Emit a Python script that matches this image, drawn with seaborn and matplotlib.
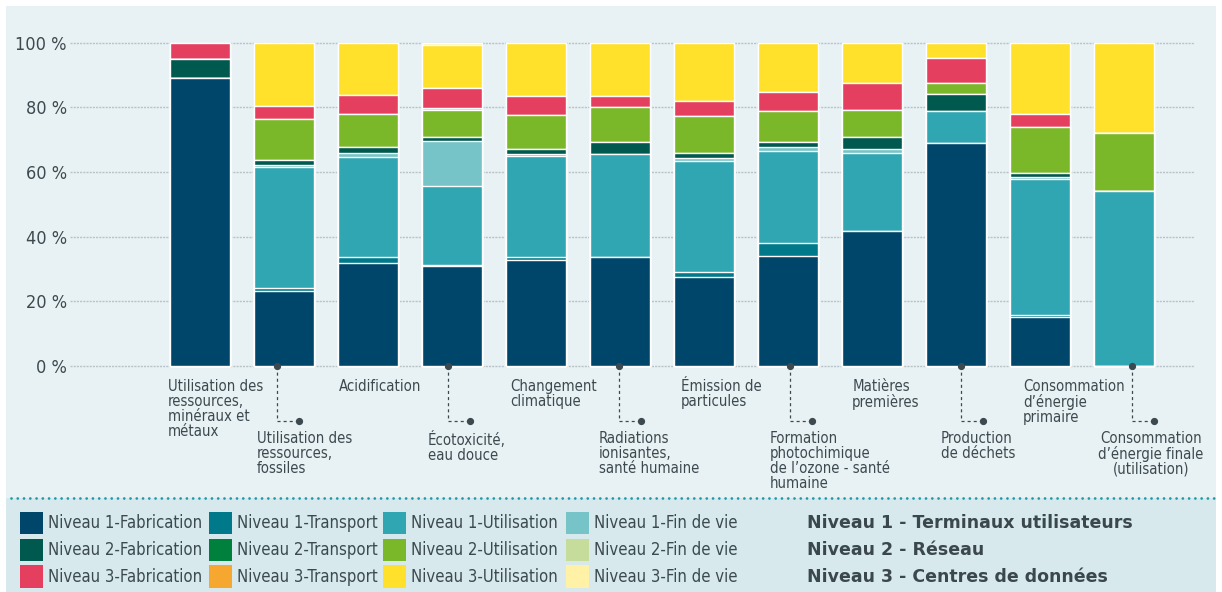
import numpy as np
import pandas as pd
import matplotlib
matplotlib.use('Agg')
import matplotlib.pyplot as plt
from matplotlib.patches import Rectangle
from matplotlib.lines import Line2D
import seaborn as sns

# ---------------------------------------------------------
# DATA (share of each impact, %)
# ---------------------------------------------------------
categories = [
    "Utilisation des\nressources,\nminéraux et\nmétaux",
    "Utilisation des\nressources,\nfossiles",
    "Acidification",
    "Écotoxicité,\neau douce",
    "Changement\nclimatique",
    "Radiations\nionisantes,\nsanté humaine",
    "Émission de\nparticules",
    "Formation\nphotochimique\nde l’ozone - santé\nhumaine",
    "Matières\npremières",
    "Production\nde déchets",
    "Consommation\nd’énergie\nprimaire",
    "Consommation\nd’énergie finale\n(utilisation)",
]

niv1_fabrication = [89.0, 23.2, 31.8, 30.9, 32.8, 33.6, 27.4, 34.0, 41.8, 69.1, 15.1, 0.0]
niv1_transport   = [0.0, 0.8, 1.8, 0.3, 1.0, 0.0, 1.6, 3.9, 0.0, 0.0, 0.7, 0.0]
niv1_utilisation = [0.2, 37.6, 31.0, 24.6, 31.1, 32.1, 34.3, 28.6, 24.2, 9.8, 42.0, 54.0]
niv1_fin_de_vie  = [0.0, 0.5, 1.4, 13.8, 0.8, 0.0, 0.9, 1.1, 1.0, 0.0, 0.8, 0.0]
niv2_fabrication = [5.8, 1.6, 1.6, 1.3, 1.5, 3.7, 1.6, 1.8, 3.9, 5.3, 1.2, 0.0]
niv2_transport   = [0.0] * 12
niv2_utilisation = [0.0, 12.6, 10.5, 8.3, 10.3, 10.7, 11.5, 9.5, 8.2, 3.2, 14.2, 18.0]
niv2_fin_de_vie  = [0.0, 0.0, 0.0, 0.5, 0.0, 0.0, 0.0, 0.0, 0.0, 0.0, 0.0, 0.0]
niv3_fabrication = [5.0, 4.1, 5.7, 6.4, 6.0, 3.4, 4.8, 6.0, 8.5, 8.0, 4.1, 0.0]
niv3_transport   = [0.0] * 12
niv3_utilisation = [0.0, 19.6, 16.2, 13.1, 16.5, 16.5, 17.9, 15.1, 12.4, 4.6, 21.9, 28.0]
niv3_fin_de_vie  = [0.0, 0.0, 0.0, 0.8, 0.0, 0.0, 0.0, 0.0, 0.0, 0.0, 0.0, 0.0]

phases = ["Fabrication", "Transport", "Utilisation", "Fin de vie"]
segment_names = [f"Niveau {n}-{p}" for n in (1, 2, 3) for p in phases]
segment_colors = [
    "#00466a", "#007a8b", "#30a6b3", "#76c4c7",
    "#00594e", "#00803d", "#7ab829", "#c5dc9b",
    "#e43f5e", "#f6a72f", "#ffe02b", "#fff2a6",
]
level_titles = [
    "Niveau 1 - Terminaux utilisateurs",
    "Niveau 2 - Réseau",
    "Niveau 3 - Centres de données",
]

df = pd.DataFrame(
    [niv1_fabrication, niv1_transport, niv1_utilisation, niv1_fin_de_vie,
     niv2_fabrication, niv2_transport, niv2_utilisation, niv2_fin_de_vie,
     niv3_fabrication, niv3_transport, niv3_utilisation, niv3_fin_de_vie],
    index=segment_names, columns=categories).T
cum = df.cumsum(axis=1)

# ---------------------------------------------------------
# STYLE
# ---------------------------------------------------------
sns.set_theme(style="white")
plt.rcParams['font.family'] = ['DejaVu Sans Condensed', 'DejaVu Sans']
plt.rcParams['font.stretch'] = 'condensed'
plt.rcParams['lines.scale_dashes'] = False
TXT = "#3c4a50"

W, H = 1222, 592
fig = plt.figure(figsize=(W / 100, H / 100), dpi=100, facecolor="white")

def fx(x):
    return x / W

def fy(y):
    return 1 - y / H

# background panels
fig.patches.append(Rectangle((fx(6), fy(498)), fx(1216 - 6), (498 - 6) / H,
                             transform=fig.transFigure, facecolor="#e8f1f4", edgecolor="none", zorder=-2))
fig.patches.append(Rectangle((fx(6), 0), fx(1216 - 6), (H - 498) / H,
                             transform=fig.transFigure, facecolor="#d7e9ed", edgecolor="none", zorder=-2))
fig.lines.append(Line2D([fx(11), fx(1215)], [fy(498), fy(498)], transform=fig.transFigure,
                        color="#1f9aa5", linewidth=2.0, linestyle=(0, (0.01, 4.5)),
                        dash_capstyle="round", zorder=-1))

# axes: 0 % at y=366 px, 100 % at y=42.7 px
ax = fig.add_axes([fx(70), (H - 367.6) / H, (1195 - 70) / W, (367.6 - 39.5) / H])
ax.set_facecolor("none")

# ---------------------------------------------------------
# STACKED BARS (drawn as layered cumulative bars)
# ---------------------------------------------------------
for seg, col in reversed(list(zip(segment_names, segment_colors))):
    sns.barplot(x=categories, y=cum[seg].values, order=categories, color=col,
                saturation=1, width=0.714, edgecolor="white", linewidth=1.0,
                errorbar=None, ax=ax)

ax.set_xlim(-1.548, 11.839)
ax.set_ylim(-0.5, 101)
ax.set_yticks([0, 20, 40, 60, 80, 100])
ax.set_yticklabels([f"{t} %" for t in [0, 20, 40, 60, 80, 100]])
ax.tick_params(axis="y", length=0, pad=2.2, labelsize=13, labelcolor=TXT)
ax.set_xticks([])
ax.set_xlabel("")
ax.set_ylabel("")
ax.grid(axis="y", color="#b9c3c7", linestyle=(0, (1.5, 0.8)), linewidth=1.0, zorder=0)
ax.set_axisbelow(True)
for s in ax.spines.values():
    s.set_visible(False)

# ---------------------------------------------------------
# CATEGORY LABELS (alternating, with dashed connectors)
# ---------------------------------------------------------
lab_kw = dict(fontsize=10.7, color=TXT, linespacing=1.0, clip_on=False)
for i, lab in enumerate(categories):
    k = i // 2
    if i % 2 == 0:
        ax.text(i - 0.38 + 0.035 * k, -4.0, lab, ha="left", va="top", **lab_kw)
    else:
        cx = i - 0.083 + 0.035 * k
        ex = cx + 0.26
        ax.plot([cx, cx, ex], [0, -17, -17], color=TXT, linewidth=0.9,
                linestyle=(0, (2.2, 2.2)), clip_on=False, zorder=5)
        ax.plot([cx, ex], [0, -17], "o", color=TXT, markersize=4.2, clip_on=False, zorder=6)
        if i == len(categories) - 1:
            ax.text(ex - 0.04, -20.1, lab, ha="center", va="top",
                    multialignment="center", **lab_kw)
        else:
            ax.text(cx - 0.24, -20.1, lab, ha="left", va="top", **lab_kw)

# ---------------------------------------------------------
# LEGEND (3 rows x 4 columns + level titles)
# ---------------------------------------------------------
col_x = [20, 209, 383, 566]
row_y = [511.7, 538.7, 565.4]
sq = 22.7
for n in range(3):
    for p in range(4):
        idx = n * 4 + p
        x0, y0 = col_x[p], row_y[n]
        fig.patches.append(Rectangle((fx(x0), fy(y0 + sq)), sq / W, sq / H,
                                     transform=fig.transFigure, facecolor=segment_colors[idx],
                                     edgecolor="none"))
        fig.text(fx(x0 + sq + 5), fy(y0 + sq / 2), segment_names[idx], ha="left", va="center",
                 fontsize=12, color=TXT)
    fig.text(fx(807), fy(row_y[n] + sq / 2), level_titles[n], ha="left", va="center",
             fontsize=12.5, fontweight="bold", family="DejaVu Sans", fontstretch="normal",
             color="#3a474d")

fig.savefig("out.png", dpi=100, facecolor="white")
